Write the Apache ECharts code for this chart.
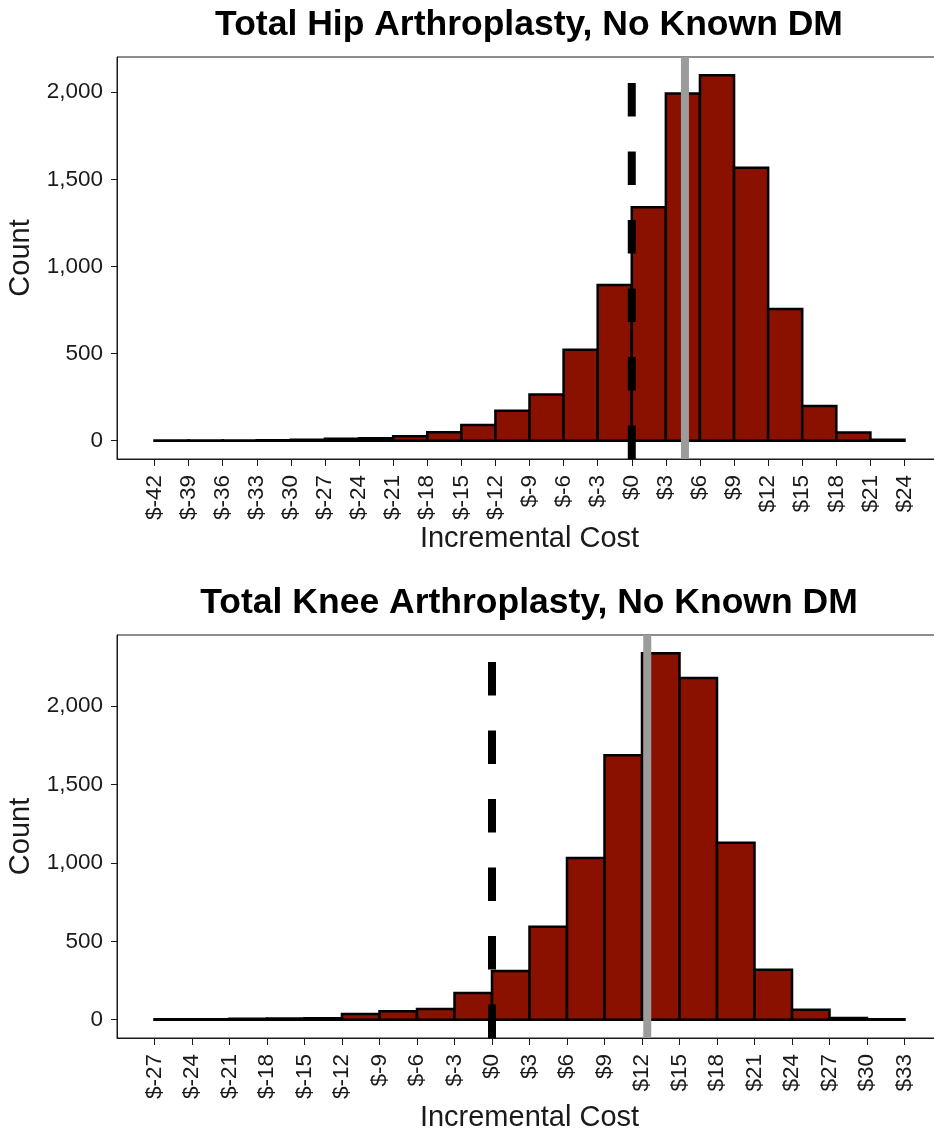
<!DOCTYPE html>
<html>
<head>
<meta charset="utf-8">
<script src="https://cdn.jsdelivr.net/npm/echarts@6/dist/echarts.min.js"></script>
<style>
html, body { margin: 0; padding: 0; background: #fff; }
#chart { width: 934px; height: 1134px; }
</style>
</head>
<body>
<div id="chart"></div>
<script>
var font = '"Liberation Sans", Arial, Helvetica, sans-serif';
var barFill = '#8a1000';
var ink = '#1a1a1a';
var binWidth = 3;

// Total hip arthroplasty: left edge of each $3 bin, and its count
var hipBinStarts = [-42, -39, -36, -33, -30, -27, -24, -21, -18, -15, -12, -9, -6, -3, 0, 3, 6, 9, 12, 15, 18, 21];
var hipCounts = [1, 1, 2, 3, 5, 12, 14, 25, 48, 90, 172, 265, 522, 893, 1340, 1993, 2097, 1566, 756, 199, 47, 5];
var hipTicks = [-42, -39, -36, -33, -30, -27, -24, -21, -18, -15, -12, -9, -6, -3, 0, 3, 6, 9, 12, 15, 18, 21, 24];
var hipMean = 4.68;

// Total knee arthroplasty
var kneeBinStarts = [-27, -24, -21, -18, -15, -12, -9, -6, -3, 0, 3, 6, 9, 12, 15, 18, 21, 24, 27, 30];
var kneeCounts = [3, 2, 6, 8, 9, 36, 53, 68, 170, 311, 593, 1031, 1687, 2337, 2180, 1128, 318, 63, 10, 3];
var kneeTicks = [-27, -24, -21, -18, -15, -12, -9, -6, -3, 0, 3, 6, 9, 12, 15, 18, 21, 24, 27, 30, 33];
var kneeMean = 12.42;

var countTicks = [0, 500, 1000, 1500, 2000];
var breakEven = 0;

var chart = echarts.init(document.getElementById('chart'));

function renderBar(params, api) {
	var start = api.value(0);
	var n = api.value(1);
	var topLeft = api.coord([start, n]);
	var bottomRight = api.coord([start + binWidth, 0]);
	return {
		type: 'rect',
		shape: {
			x: topLeft[0],
			y: topLeft[1],
			width: bottomRight[0] - topLeft[0],
			height: bottomRight[1] - topLeft[1]
		},
		style: { fill: barFill, stroke: '#000', lineWidth: 2.5 }
	};
}

function panel(i, starts, counts, ticks, mean) {
	var xPad = (ticks[ticks.length - 1] - ticks[0]) * 0.05;
	var yMax = Math.max.apply(null, counts);
	var yPad = yMax * 0.05;
	var lo = -yPad, hi = yMax + yPad;
	return {
		xAxis: {
			type: 'value',
			gridIndex: i,
			min: ticks[0] - xPad,
			max: ticks[ticks.length - 1] + xPad,
			axisLine: { show: true, onZero: false, lineStyle: { color: ink, width: 1 } },
			axisTick: { show: true, customValues: ticks, length: 7, lineStyle: { color: ink } },
			axisLabel: {
				customValues: ticks,
				rotate: 90,
				margin: 16,
				fontSize: 22.5,
				fontFamily: font,
				color: ink,
				formatter: function(v) { return '$' + v; }
			},
			splitLine: { show: false },
			name: 'Incremental Cost',
			nameLocation: 'middle',
			nameGap: 65,
			nameTextStyle: { fontSize: 29, fontFamily: font, color: ink }
		},
		yAxis: {
			type: 'value',
			gridIndex: i,
			min: lo,
			max: hi,
			axisLine: { show: true, onZero: false, lineStyle: { color: ink, width: 1 } },
			axisTick: { show: true, customValues: countTicks, length: 6, lineStyle: { color: ink } },
			axisLabel: {
				customValues: countTicks,
				margin: 14,
				fontSize: 22.5,
				fontFamily: font,
				color: ink,
				formatter: function(v) { return v.toLocaleString('en-US'); }
			},
			splitLine: { show: false },
			name: 'Count',
			nameLocation: 'middle',
			nameGap: 82,
			nameTextStyle: { fontSize: 29, fontFamily: font, color: ink }
		},
		series: [
			{
				type: 'custom',
				xAxisIndex: i,
				yAxisIndex: i,
				renderItem: renderBar,
				data: starts.map(function(s, k) { return [s, counts[k]]; }),
				z: 2
			},
			{
				type: 'line',
				xAxisIndex: i,
				yAxisIndex: i,
				data: [[breakEven, lo], [breakEven, hi]],
				symbol: 'none',
				lineStyle: { color: '#000', width: 8, type: [33.5, 35], cap: 'butt' },
				z: 3
			},
			{
				type: 'line',
				xAxisIndex: i,
				yAxisIndex: i,
				data: [[mean, lo], [mean, hi]],
				symbol: 'none',
				lineStyle: { color: '#9c9c9c', width: 8 },
				z: 3
			}
		]
	};
}

var hip = panel(0, hipBinStarts, hipCounts, hipTicks, hipMean);
var knee = panel(1, kneeBinStarts, kneeCounts, kneeTicks, kneeMean);

var gridStyle = { show: true, borderColor: ink, borderWidth: 1, backgroundColor: 'transparent', left: 117, right: -8, outerBoundsMode: 'none' };

chart.setOption({
	animation: false,
	backgroundColor: '#fff',
	grid: [
		Object.assign({ top: 57, height: 402 }, gridStyle),
		Object.assign({ top: 635, height: 403 }, gridStyle)
	],
	xAxis: [hip.xAxis, knee.xAxis],
	yAxis: [hip.yAxis, knee.yAxis],
	series: hip.series.concat(knee.series),
	graphic: [
		{
			type: 'text', x: 529, y: 25,
			style: { text: 'Total Hip Arthroplasty, No Known DM', align: 'center', verticalAlign: 'middle', fontSize: 35.5, fontWeight: 'bold', fontFamily: font, fill: '#000' }
		},
		{
			type: 'text', x: 529, y: 603,
			style: { text: 'Total Knee Arthroplasty, No Known DM', align: 'center', verticalAlign: 'middle', fontSize: 35.5, fontWeight: 'bold', fontFamily: font, fill: '#000' }
		}
	]
});
</script>
</body>
</html>
